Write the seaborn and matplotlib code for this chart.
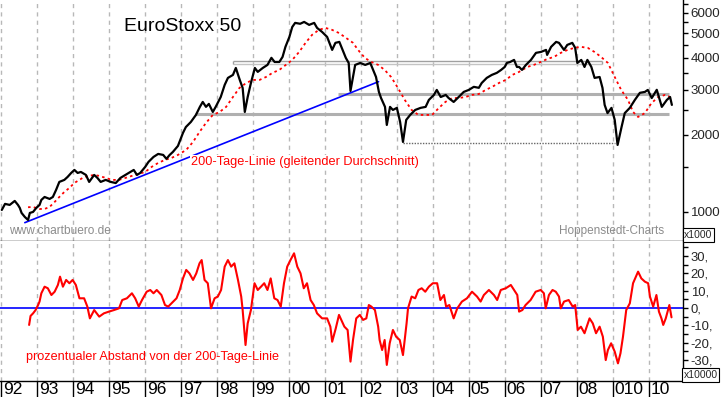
import matplotlib
matplotlib.use("Agg")
import matplotlib.pyplot as plt
import matplotlib.ticker as mticker
import seaborn as sns

# EuroStoxx 50 closes (decimal year, index points)
price_t = [1992.01, 1992.10, 1992.23, 1992.37, 1992.46, 1992.51, 1992.56, 1992.65, 1992.74, 1992.79,
           1992.88, 1992.97, 1993.06, 1993.11, 1993.20, 1993.34, 1993.43, 1993.52, 1993.61, 1993.75,
           1993.84, 1993.94, 1994.03, 1994.12, 1994.21, 1994.35, 1994.44, 1994.58, 1994.67, 1994.76,
           1994.90, 1995.04, 1995.18, 1995.31, 1995.45, 1995.59, 1995.68, 1995.77, 1995.86, 1996.00,
           1996.09, 1996.23, 1996.36, 1996.50, 1996.59, 1996.68, 1996.77, 1996.91, 1997.05, 1997.13,
           1997.27, 1997.41, 1997.52, 1997.60, 1997.69, 1997.77, 1997.88, 1997.96, 1998.10, 1998.21,
           1998.30, 1998.44, 1998.52, 1998.63, 1998.71, 1998.77, 1998.85, 1998.94, 1999.05, 1999.13,
           1999.27, 1999.40, 1999.51, 1999.60, 1999.73, 1999.82, 1999.90, 2000.01, 2000.09, 2000.17,
           2000.31, 2000.42, 2000.56, 2000.70, 2000.78, 2000.92, 2001.06, 2001.20, 2001.29, 2001.40,
           2001.49, 2001.58, 2001.66, 2001.71, 2001.78, 2001.84, 2001.98, 2002.12, 2002.26, 2002.34,
           2002.42, 2002.50, 2002.56, 2002.67, 2002.72, 2002.81, 2002.89, 2003.00, 2003.09, 2003.17,
           2003.26, 2003.37, 2003.51, 2003.66, 2003.80, 2003.89, 2004.03, 2004.11, 2004.22, 2004.36,
           2004.44, 2004.58, 2004.72, 2004.86, 2005.00, 2005.14, 2005.28, 2005.36, 2005.50, 2005.64,
           2005.78, 2005.90, 2006.00, 2006.06, 2006.15, 2006.26, 2006.34, 2006.40, 2006.48, 2006.59,
           2006.73, 2006.87, 2007.01, 2007.15, 2007.18, 2007.29, 2007.43, 2007.51, 2007.65, 2007.74,
           2007.88, 2007.96, 2008.02, 2008.13, 2008.22, 2008.30, 2008.41, 2008.50, 2008.64, 2008.72,
           2008.78, 2008.86, 2008.97, 2009.06, 2009.14, 2009.25, 2009.34, 2009.48, 2009.62, 2009.76,
           2009.90, 2009.98, 2010.09, 2010.23, 2010.37, 2010.51, 2010.60, 2010.65]
price_v = [1018, 1075, 1065, 1104, 1065, 1037, 991, 956, 930, 991,
           1000, 1037, 1065, 1114, 1144, 1124, 1144, 1219, 1310, 1334,
           1370, 1420, 1459, 1420, 1433, 1395, 1310, 1395, 1358, 1310,
           1334, 1310, 1297, 1358, 1395, 1433, 1459, 1395, 1420, 1500,
           1568, 1640, 1685, 1670, 1612, 1670, 1716, 1811, 2036, 2146,
           2247, 2393, 2573, 2690, 2573, 2643, 2458, 2573, 2812, 3135,
           3339, 3430, 3652, 3279, 3051, 2458, 2812, 3190, 3652, 3525,
           3652, 3753, 4000, 3853, 3853, 4033, 4415, 4828, 5280, 5478,
           5434, 5526, 5380, 5478, 5237, 5049, 4828, 4296, 4577, 4617,
           4296, 3998, 3820, 2970, 3367, 3753, 3820, 3753, 3820, 3588,
           3367, 2944, 2786, 2573, 2187, 2573, 2503, 2550, 2247, 1877,
           2288, 2393, 2503, 2550, 2573, 2739, 2865, 2997, 2812, 2865,
           2786, 2690, 2812, 2944, 2997, 3081, 3054, 3190, 3339, 3430,
           3494, 3588, 3685, 3820, 3853, 3926, 3685, 3685, 3588, 3753,
           3926, 4183, 4219, 4296, 4107, 4415, 4617, 4577, 4296, 4493,
           4577, 4376, 3820, 3926, 3685, 3926, 3685, 3339, 3367, 3051,
           2619, 2433, 2550, 2288, 1827, 2146, 2433, 2550, 2739, 2920,
           2944, 2997, 2786, 3000, 2573, 2739, 2812, 2619]

# 200-Tage-Linie (moving average)
ma_t = [1992.74, 1992.87, 1993.06, 1993.20, 1993.34, 1993.48, 1993.61, 1993.75, 1993.89, 1994.03,
        1994.17, 1994.30, 1994.44, 1994.58, 1994.72, 1994.90, 1995.08, 1995.27, 1995.45, 1995.63,
        1995.82, 1996.00, 1996.18, 1996.36, 1996.55, 1996.73, 1996.91, 1997.14, 1997.33, 1997.51,
        1997.69, 1997.88, 1998.07, 1998.25, 1998.44, 1998.62, 1998.81, 1998.99, 1999.18, 1999.36,
        1999.54, 1999.73, 1999.91, 2000.09, 2000.28, 2000.46, 2000.64, 2000.83, 2001.01, 2001.20,
        2001.39, 2001.59, 2001.78, 2001.92, 2002.11, 2002.29, 2002.48, 2002.66, 2002.84, 2003.03,
        2003.22, 2003.41, 2003.60, 2003.79, 2003.98, 2004.17, 2004.35, 2004.54, 2004.72, 2004.91,
        2005.09, 2005.28, 2005.47, 2005.65, 2005.84, 2006.03, 2006.21, 2006.40, 2006.63, 2006.81,
        2007.00, 2007.19, 2007.37, 2007.56, 2007.75, 2007.94, 2008.12, 2008.31, 2008.50, 2008.68,
        2008.87, 2009.06, 2009.24, 2009.43, 2009.57, 2009.71, 2009.90, 2010.08, 2010.27, 2010.46,
        2010.60]
ma_v = [1043, 1046, 1027, 1027, 1046, 1094, 1144, 1197, 1241, 1298,
        1334, 1370, 1383, 1395, 1383, 1358, 1334, 1334, 1358, 1383,
        1408, 1433, 1500, 1554, 1597, 1625, 1670, 1747, 1877, 2053,
        2227, 2393, 2458, 2573, 2812, 3051, 3190, 3279, 3279, 3367,
        3494, 3588, 3753, 3926, 4215, 4577, 4917, 5143, 5237, 5143,
        5001, 4781, 4577, 4296, 3998, 3853, 3753, 3588, 3367, 3051,
        2739, 2503, 2393, 2393, 2393, 2550, 2690, 2786, 2786, 2812,
        2865, 2889, 2997, 3081, 3190, 3279, 3430, 3525, 3685, 3753,
        3853, 3963, 4033, 4183, 4296, 4376, 4415, 4376, 4215, 4033,
        3820, 3367, 2997, 2739, 2458, 2350, 2433, 2659, 2812, 2865,
        2812]

# prozentualer Abstand von der 200-Tage-Linie (%)
osc_t = [1992.77, 1992.81, 1992.88, 1992.95, 1993.02, 1993.06, 1993.11, 1993.20, 1993.29, 1993.39,
         1993.48, 1993.57, 1993.63, 1993.71, 1993.80, 1993.89, 1993.98, 1994.07, 1994.17, 1994.30,
         1994.39, 1994.46, 1994.58, 1994.72, 1994.85, 1994.99, 1995.13, 1995.27, 1995.36, 1995.49,
         1995.63, 1995.72, 1995.82, 1995.91, 1996.04, 1996.14, 1996.23, 1996.32, 1996.45, 1996.55,
         1996.64, 1996.73, 1996.87, 1996.96, 1997.05, 1997.14, 1997.23, 1997.33, 1997.42, 1997.51,
         1997.57, 1997.65, 1997.74, 1997.83, 1997.93, 1998.02, 1998.11, 1998.21, 1998.30, 1998.39,
         1998.48, 1998.58, 1998.67, 1998.71, 1998.79, 1998.85, 1998.94, 1999.04, 1999.13, 1999.22,
         1999.31, 1999.40, 1999.49, 1999.59, 1999.68, 1999.77, 1999.86, 1999.95, 2000.04, 2000.14,
         2000.23, 2000.32, 2000.41, 2000.50, 2000.60, 2000.69, 2000.78, 2000.92, 2001.06, 2001.15,
         2001.20, 2001.30, 2001.39, 2001.54, 2001.63, 2001.71, 2001.78, 2001.87, 2001.97, 2002.06,
         2002.15, 2002.22, 2002.29, 2002.39, 2002.48, 2002.52, 2002.59, 2002.66, 2002.72, 2002.80,
         2002.89, 2002.98, 2003.08, 2003.12, 2003.17, 2003.27, 2003.31, 2003.41, 2003.51, 2003.60,
         2003.69, 2003.79, 2003.89, 2004.00, 2004.12, 2004.21, 2004.31, 2004.37, 2004.46, 2004.58,
         2004.68, 2004.81, 2004.95, 2005.09, 2005.23, 2005.33, 2005.42, 2005.56, 2005.70, 2005.79,
         2005.89, 2006.03, 2006.17, 2006.26, 2006.35, 2006.40, 2006.49, 2006.58, 2006.72, 2006.86,
         2007.00, 2007.09, 2007.14, 2007.23, 2007.33, 2007.42, 2007.51, 2007.56, 2007.65, 2007.78,
         2007.89, 2007.96, 2008.03, 2008.12, 2008.22, 2008.36, 2008.45, 2008.54, 2008.64, 2008.73,
         2008.81, 2008.87, 2008.96, 2009.06, 2009.15, 2009.22, 2009.29, 2009.38, 2009.48, 2009.57,
         2009.71, 2009.80, 2009.90, 2009.99, 2010.04, 2010.13, 2010.22, 2010.29, 2010.36, 2010.41,
         2010.48, 2010.58, 2010.64]
osc_v = [-9.8, -4.6, -3.1, -1.2, 1.7, 3.7, 8.5, 12.3, 11.4, 7.5,
         9.4, 13.3, 18.1, 12.3, 16.2, 14.3, 16.2, 13.3, 5.6, 5.6,
         0.8, -6.0, -1.2, -5.0, -3.1, -2.1, -1.2, -0.2, 4.6, 5.6,
         8.5, 5.6, 0.8, 4.6, 9.4, 10.4, 8.5, 10.4, 7.5, 1.7,
         0.8, 2.7, 5.6, 10.4, 17.1, 22.0, 20.0, 16.2, 20.0, 25.8,
         27.7, 16.2, 14.3, -0.2, 5.6, 6.6, 10.4, 23.9, 27.7, 23.9,
         25.8, 16.2, 6.6, -1.2, -21.4, -8.9, -1.2, 14.3, 10.4, 12.3,
         14.3, 10.4, 17.1, 5.6, 4.6, 0.8, 14.3, 23.9, 27.7, 31.6,
         23.9, 20.0, 11.4, 14.3, 4.6, 1.7, -3.1, -6.0, -6.0, -10.8,
         -19.5, -11.8, -4.0, -10.8, -12.7, -31.0, -18.5, -6.0, -4.0, -6.9,
         -6.0, 1.7, 0.8, -1.2, -10.8, -18.5, -24.3, -18.5, -32.9, -20.4,
         -12.7, -16.6, -18.5, -22.4, -27.2, -8.9, -0.2, 6.6, 5.6, 10.4,
         11.4, 9.4, 12.3, 14.3, 14.3, 4.6, 7.5, 0.8, 1.7, -6.0,
         -0.2, 3.7, 5.6, 9.4, 6.6, 3.7, 7.5, 10.4, 7.5, 4.6,
         10.4, 11.4, 13.3, 10.4, 7.5, -2.1, -1.2, 1.7, 4.6, 9.4,
         10.4, 8.5, -0.2, 7.5, 10.4, 9.4, 6.6, -0.2, 3.7, 4.6,
         0.8, 1.7, -12.7, -10.8, -14.6, -6.0, -8.9, -14.6, -10.8, -16.6,
         -30.1, -24.3, -20.4, -25.2, -32.0, -26.2, -16.6, -1.2, 2.7, 14.3,
         21.0, 17.1, 15.2, 14.3, 6.6, 0.8, 7.5, -2.1, -6.0, -9.8,
         -6.0, 1.7, -5.4]

# support / resistance lines: (level, start, end)
zones = [(2897, 2001.35, 2010.57), (2415, 1997.38, 2010.57)]
box_levels = [3897, 3790]
box_span = (1998.44, 2008.72)
low_line = (1865, 2003.17, 2009.08)
trend_t = [1992.65, 2002.49]
trend_v = [908, 3228]

years = list(range(1992, 2011))
year_labels = ["92", "93", "94", "95", "96", "97", "98", "99", "00", "01",
               "02", "03", "04", "05", "06", "07", "08", "010", "10"]

sns.set_theme(style="white")
plt.rcParams['font.family'] = ['Liberation Sans', 'DejaVu Sans']
narrow = ['Liberation Sans Narrow', 'Liberation Sans', 'DejaVu Sans']

fig = plt.figure(figsize=(7.23, 3.97), dpi=100)
ax = fig.add_axes([0, 0.393, 0.9447, 0.607])
ax2 = fig.add_axes([0, 0.0403, 0.9447, 0.3526], sharex=ax)

for a in (ax, ax2):
    for yr in years:
        a.axvline(yr, color='#b8b8b8', lw=1, ls=(0, (3, 3)), zorder=0)
    a.set_facecolor('white')
    a.spines['left'].set_visible(False)
    a.spines['top'].set_visible(False)
    for s in ('right', 'bottom'):
        a.spines[s].set_color('black')
        a.spines[s].set_linewidth(1)

# upper panel
for lvl, t0, t1 in zones:
    ax.hlines(lvl, t0, t1, color='#b0b0b0', lw=2.2, zorder=1)
ax.hlines(box_levels[0], *box_span, color='#a0a0a0', lw=1, zorder=1)
ax.hlines(box_levels[1], *box_span, color='#c4c4c4', lw=1, zorder=1)
ax.vlines(box_span, box_levels[1], box_levels[0], color='#a0a0a0', lw=1, zorder=1)
ax.hlines(low_line[0], low_line[1], low_line[2], color='#666666', lw=1, ls=(0, (1, 1)), zorder=1)

sns.lineplot(x=trend_t, y=trend_v, ax=ax, color='#0000ff', lw=1.2, zorder=2)
sns.lineplot(x=ma_t, y=ma_v, ax=ax, color='#ff0000', lw=1.3, ls=(0, (1.4, 1.8)),
             estimator=None, sort=False, zorder=3)
sns.lineplot(x=price_t, y=price_v, ax=ax, color='black', lw=1.6,
             estimator=None, sort=False, zorder=4)

ax.set_yscale('log')
ax.set_ylim(770, 6730)
ax.set_xlim(1991.96, 2010.96)
ax.yaxis.tick_right()
ax.yaxis.set_major_locator(mticker.FixedLocator([1000, 2000, 3000, 4000, 5000, 6000]))
ax.yaxis.set_major_formatter(mticker.FixedFormatter(["1000", "2000", "3000", "4000", "5000", "6000"]))
ax.yaxis.set_minor_locator(mticker.FixedLocator([1500, 2500, 3500, 4500, 5500, 6500]))
ax.yaxis.set_minor_formatter(mticker.NullFormatter())
ax.tick_params(axis='y', which='both', right=True, left=False, direction='out',
               length=3.6, width=1, color='black', labelsize=9.6, pad=2)
ax.tick_params(axis='x', which='both', bottom=False, labelbottom=False)
ax.set_xlabel("")
ax.set_ylabel("")

ax.text(0.1816, 0.888, "EuroStoxx 50", transform=ax.transAxes, fontsize=14,
        ha='left', va='center', color='black')
ax.text(1997.27, 1567, "200-Tage-Linie (gleitender Durchschnitt)", fontsize=9.2,
        color='#ff0000', ha='left', va='center', zorder=5,
        bbox=dict(facecolor='white', edgecolor='none', pad=0.5))
ax.text(0.0132, 0.043, "www.chartbuero.de", transform=ax.transAxes, fontsize=8.6,
        color='#8c8c8c', ha='left', va='center')
ax.text(0.972, 0.043, "Hoppenstedt-Charts", transform=ax.transAxes, fontsize=8.5,
        color='#8c8c8c', ha='right', va='center')

# lower panel
ax2.axhline(0, color='#0000ff', lw=1.2, zorder=2)
sns.lineplot(x=osc_t, y=osc_v, ax=ax2, color='#ff0000', lw=1.5,
             estimator=None, sort=False, zorder=3)
ax2.set_ylim(-42.2, 38.7)
ax2.yaxis.tick_right()
ax2.yaxis.set_major_locator(mticker.FixedLocator([-30, -20, -10, 0, 10, 20, 30]))
ax2.yaxis.set_major_formatter(mticker.FixedFormatter(["-30,", "-20,", "-10,", "0,", "10,", "20,", "30,"]))
ax2.yaxis.set_minor_locator(mticker.FixedLocator([-35, -25, -15, -5, 5, 15, 25, 35]))
ax2.tick_params(axis='y', which='both', right=True, left=False, direction='out',
                length=3.6, width=1, color='black', labelsize=9.4, pad=2)
ax2.set_xticks(years)
ax2.tick_params(axis='x', which='major', bottom=True, direction='out', length=12,
                width=1, color='black', labelbottom=False)
ax2.set_xlabel("")
ax2.set_ylabel("")
for yr, lab in zip(years, year_labels):
    ax2.annotate(lab, xy=(yr, 0), xycoords=('data', 'axes fraction'),
                 xytext=(1.5, -1), textcoords='offset points', ha='left', va='top',
                 fontsize=12.5, family=narrow, color='black', annotation_clip=False)

ax2.text(0.038, 0.174, "prozentualer Abstand von der 200-Tage-Linie", transform=ax2.transAxes,
         fontsize=9.1, color='#ff0000', ha='left', va='center')

fig.text(0.966, 0.408, "x1000", fontsize=7.5, ha='center', va='center',
         bbox=dict(facecolor='white', edgecolor='black', lw=0.8, pad=1.2))
fig.text(0.969, 0.055, "x10000", fontsize=7.5, ha='center', va='center',
         bbox=dict(facecolor='white', edgecolor='black', lw=0.8, pad=1.2))

fig.savefig("out.png", dpi=100)
